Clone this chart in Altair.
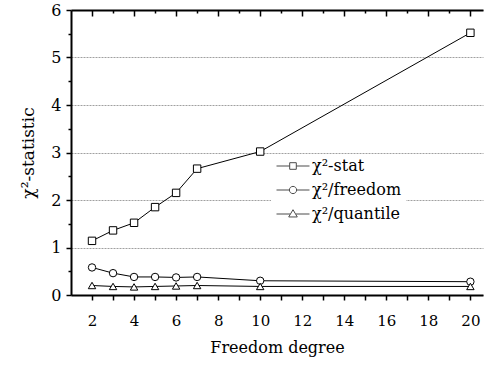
import altair as alt
import pandas as pd

# data
freedom = [2, 3, 4, 5, 6, 7, 10, 20]
chi2_stat = [1.14, 1.36, 1.52, 1.85, 2.15, 2.66, 3.02, 5.52]
chi2_freedom = [0.58, 0.46, 0.38, 0.38, 0.37, 0.38, 0.30, 0.28]
chi2_quantile = [0.20, 0.18, 0.17, 0.18, 0.19, 0.20, 0.18, 0.18]
series_names = ["χ²-stat", "χ²/freedom", "χ²/quantile"]
x_tick_values = list(range(2, 21))
y_tick_values = [i / 2 for i in range(0, 13)]

rows = []
for name, vals in zip(series_names, [chi2_stat, chi2_freedom, chi2_quantile]):
    for f, v in zip(freedom, vals):
        rows.append({"x": f, "y": v, "series": name})
df = pd.DataFrame(rows)

FONT = "DejaVu Serif"
W, H = 412, 285
xscale = alt.Scale(domain=[1, 20.6], nice=False, zero=False)
yscale = alt.Scale(domain=[0, 6], nice=False)

bottom_axis = alt.Axis(
    values=x_tick_values,
    labelExpr="datum.value % 2 == 0 ? datum.label : ''",
    grid=False, domainColor="black", domainWidth=2,
    tickColor="black", tickWidth=1.5, tickSize=5,
    labelFont=FONT, labelFontSize=15, labelColor="black", labelPadding=13,
    title="Freedom degree", titleFont=FONT, titleFontSize=16,
    titleFontWeight="normal", titleColor="black", titlePadding=11,
)
left_axis = alt.Axis(
    values=y_tick_values,
    labelExpr="datum.value % 1 == 0 ? format(datum.value, 'd') : ''",
    grid=True, gridColor="#a0a0a0", gridDash=[2, 1], gridWidth=1,
    gridOpacity=alt.condition("datum.value % 1 == 0", alt.value(1), alt.value(0)),
    domainColor="black", domainWidth=2,
    tickColor="black", tickWidth=1.5,
    tickSize=alt.condition("datum.value % 1 == 0", alt.value(5), alt.value(3)),
    labelFont=FONT, labelFontSize=16, labelColor="black", labelPadding=5,
    title="χ²-statistic", titleFont=FONT, titleFontSize=17,
    titleFontWeight="normal", titleColor="black", titlePadding=13,
)
top_axis = alt.Axis(
    orient="bottom", offset=-H,
    values=x_tick_values, labels=False, grid=False, title=None,
    domainColor="black", domainWidth=2, tickColor="black", tickWidth=1.5,
    tickSize=alt.condition("datum.value % 2 == 0", alt.value(6), alt.value(3)),
)

lines = alt.Chart(df).mark_line(color="black", strokeWidth=1).encode(
    x=alt.X("x:Q", scale=xscale, axis=bottom_axis),
    y=alt.Y("y:Q", scale=yscale, axis=left_axis),
    detail="series:N",
)

points = alt.Chart(df).mark_point(
    filled=True, fill="white", stroke="black", strokeWidth=1, size=55, opacity=1
).encode(
    x=alt.X("x:Q", scale=xscale, axis=None),
    y=alt.Y("y:Q", scale=yscale, axis=None),
    shape=alt.Shape("series:N", scale=alt.Scale(domain=series_names,
                    range=["square", "circle", "triangle-up"]), legend=None),
)

top = alt.Chart(df).mark_point(opacity=0).encode(
    x=alt.X("x:Q", scale=xscale, axis=top_axis),
    y=alt.Y("y:Q", scale=yscale, axis=None),
)

legend_paths = [
    "M-2.5,0H-0.5M0.5,0H2.5M-0.5,-0.5H0.5V0.5H-0.5Z",
    "M-2.5,0H-0.55M0.55,0H2.5M0.55,0A0.55,0.55,0,1,1,-0.55,0A0.55,0.55,0,1,1,0.55,0Z",
    "M-2.5,0H-0.45M0.45,0H2.5M0,-0.65L0.65,0.45H-0.65Z",
]
legend_layer = alt.Chart(df).transform_filter("false").mark_point(
    filled=False, color="black", strokeWidth=1, size=174
).encode(
    x=alt.X("x:Q", scale=xscale, axis=None),
    y=alt.Y("y:Q", scale=yscale, axis=None),
    shape=alt.Shape("series:N", scale=alt.Scale(domain=series_names, range=legend_paths),
                    legend=alt.Legend(
                        title=None, orient="none", legendX=200, legendY=144,
                        fillColor="white", padding=4,
                        labelFont=FONT, labelFontSize=16, labelColor="black",
                        symbolSize=174, symbolStrokeColor="black", symbolStrokeWidth=1,
                        symbolFillColor="transparent",
                        symbolOffset=10, labelOffset=11, rowPadding=8,
                    )),
)

chart = alt.layer(lines, points, top, legend_layer).resolve_axis(
    x="independent", y="independent"
).resolve_scale(shape="independent").properties(
    width=W, height=H,
    autosize=alt.AutoSizeParams(type="none"),
    padding={"left": 71, "top": 10, "right": 1, "bottom": 78},
    background="white",
).configure_view(stroke=None)

chart.save("out.html", embed_options={"renderer": "svg", "actions": False})
